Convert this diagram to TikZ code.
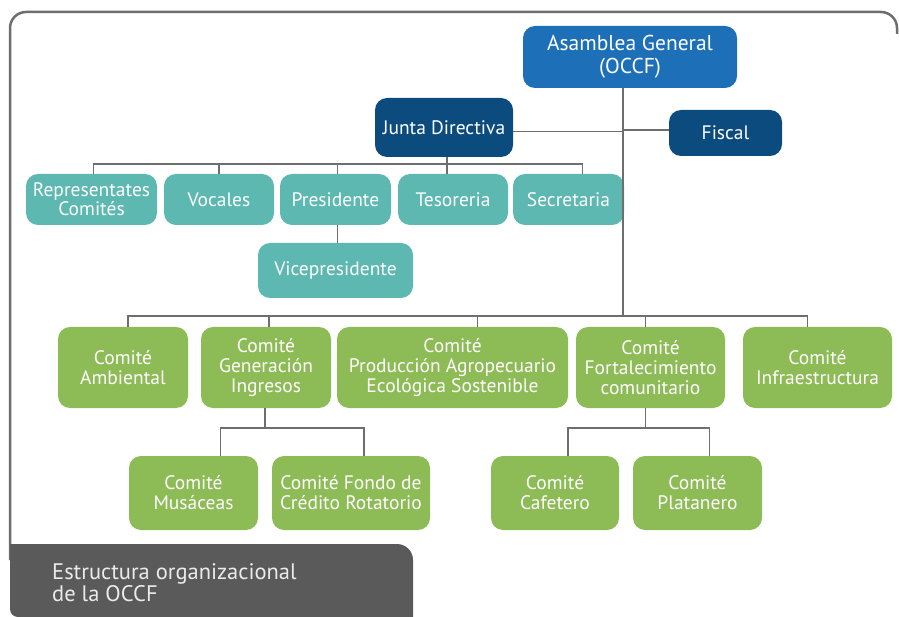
\documentclass[tikz,border=0pt]{standalone}
\usepackage{fontspec}
\setmainfont{PT Sans}
\usetikzlibrary{positioning}

\definecolor{asambleablue}{HTML}{1D70B8}
\definecolor{juntablue}{HTML}{0C4B7E}
\definecolor{tealbox}{HTML}{5CB8B1}
\definecolor{greenbox}{HTML}{8DBB55}
\definecolor{linegray}{HTML}{6E6E6E}
\definecolor{captiongray}{HTML}{5A5A5A}

\begin{document}
\begin{tikzpicture}[x=1pt,y=-1pt,
box/.style={rounded corners=12pt, text=white, align=center, inner sep=1pt,
  font=\fontsize{19.5}{20}\selectfont},
topnode/.style={box, fill=asambleablue, font=\fontsize{21.5}{23}\selectfont},
juntanode/.style={box, fill=juntablue, minimum height=46pt},
tealnode/.style={box, fill=tealbox, minimum height=51pt},
greennode/.style={box, fill=greenbox, minimum height=81pt},
subnode/.style={box, fill=greenbox, minimum height=74pt},
link/.style={draw=linegray, line width=1.3pt},
frame/.style={draw=linegray, line width=2.5pt}]

\useasboundingbox (0,0) rectangle (899,617);

% outer frame and caption
\draw[frame, rounded corners=16pt] (10,560) -- (10,12) -- (897,12) -- (897,34);
\fill[captiongray] (10,544) [rounded corners=16pt] -- (413,544) [sharp corners] -- (413,617)
  [rounded corners=8pt] -- (10,617) [sharp corners] -- cycle;
\node[anchor=west, align=left, text=white!92!black, inner sep=0pt,
  font=\fontsize{22.5}{22}\selectfont] (titulo) at (52,583)
  {Estructura organizacional\\de la OCCF};

% top level
\node[topnode, minimum width=214pt, minimum height=62pt] (asamblea) at (630,57) {Asamblea General\\(OCCF)};
\node[juntanode, minimum width=138pt, minimum height=59pt] (junta) at (444,127.5) {Junta Directiva};
\node[juntanode, minimum width=113pt] (fiscal) at (725.5,133) {Fiscal};

% junta directiva
\node[tealnode, minimum width=131pt, font=\fontsize{19.5}{19}\selectfont] (representantes) at (91.5,199.5) {Representates\\Comités};
\node[tealnode, minimum width=110pt] (vocales) at (219,199.5) {Vocales};
\node[tealnode, minimum width=111pt] (presidente) at (335.5,199.5) {Presidente};
\node[tealnode, minimum width=110pt] (tesoreria) at (453,199.5) {Tesoreria};
\node[tealnode, minimum width=111pt] (secretaria) at (568.5,199.5) {Secretaria};
\node[tealnode, minimum width=155pt, minimum height=55pt] (vice) at (335.5,270.5) {Vicepresidente};

% comites
\node[greennode, minimum width=130pt] (ambiental) at (123,367.5) {Comité\\Ambiental};
\node[greennode, minimum width=130pt] (generacion) at (266,367.5) {Comité\\Generación\\Ingresos};
\node[greennode, minimum width=231pt] (produccion) at (452.5,367.5) {Comité\\Producción Agropecuario\\Ecológica Sostenible};
\node[greennode, minimum width=149pt] (fortalecimiento) at (650.5,367.5) {Comité\\Fortalecimiento\\comunitario};
\node[greennode, minimum width=149pt] (infra) at (817.5,367.5) {Comité\\Infraestructura};

\node[subnode, minimum width=129pt] (musaceas) at (193.5,493) {Comité\\Musáceas};
\node[subnode, minimum width=158pt] (fondo) at (351,493) {Comité Fondo de\\Crédito Rotatorio};
\node[subnode, minimum width=128pt] (cafetero) at (555,493) {Comité\\Cafetero};
\node[subnode, minimum width=129pt] (platanero) at (697.5,493) {Comité\\Platanero};

% connectors
\coordinate (trunk) at ([xshift=-7pt]asamblea.south);
\coordinate (hub) at (trunk |- 0,316);
\draw[link] (trunk) -- (hub);
\draw[link] ([yshift=-4pt]junta.east) -- ([yshift=-4pt]junta.east -| trunk);
\draw[link] ([yshift=3pt]fiscal.west) -- ([yshift=3pt]fiscal.west -| trunk);

\coordinate (jhub) at ([xshift=3pt]junta.south |- 0,164);
\draw[link] ([xshift=3pt]junta.south) -- (jhub);
\draw[link] (jhub) -| ([xshift=2pt]representantes.north);
\draw[link] (jhub) -| (vocales.north);
\draw[link] (jhub) -| ([xshift=2pt]presidente.north);
\draw[link] (jhub) -| ([xshift=-6pt]tesoreria.north);
\draw[link] (jhub) -| ([xshift=14pt]secretaria.north);
\draw[link] ([xshift=2pt]presidente.south) -- ([xshift=2pt]vice.north);

\draw[link] (hub) -| ([xshift=5pt]ambiental.north);
\draw[link] (hub) -| ([xshift=3pt]generacion.north);
\draw[link] (hub) -| ([xshift=25pt]produccion.north);
\draw[link] (hub) -| ([xshift=-5pt]fortalecimiento.north);
\draw[link] (hub) -| ([xshift=-10pt]infra.north);

\coordinate (ghub) at ([xshift=-1pt]generacion.south |- 0,428);
\draw[link] ([xshift=-1pt]generacion.south) -- (ghub);
\draw[link] (ghub) -| ([xshift=27pt]musaceas.north);
\draw[link] (ghub) -| ([xshift=13pt]fondo.north);

\coordinate (fhub) at ([xshift=-5pt]fortalecimiento.south |- 0,428);
\draw[link] ([xshift=-5pt]fortalecimiento.south) -- (fhub);
\draw[link] (fhub) -| ([xshift=13pt]cafetero.north);
\draw[link] (fhub) -| ([xshift=12pt]platanero.north);

\end{tikzpicture}
\end{document}
